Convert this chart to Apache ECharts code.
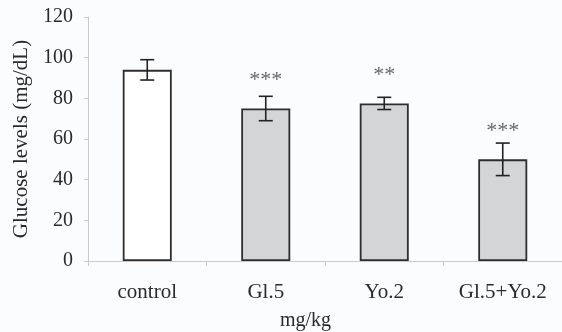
<!DOCTYPE html>
<html>
<head>
<meta charset="utf-8">
<script src="https://cdn.jsdelivr.net/npm/echarts@6/dist/echarts.min.js"></script>
<style>
  html, body { margin: 0; padding: 0; background: #fbfcfd; }
  #chart { width: 562px; height: 332px; }
</style>
</head>
<body>
<div id="chart"></div>
<script>
  const groups = ['control', 'Gl.5', 'Yo.2', 'Gl.5+Yo.2'];
  const glucose = [94, 75, 77.5, 50];
  const errors = [5, 6, 3, 8];
  const stars = ['', '***', '**', '***'];
  const starLevel = [0, 90.5, 93, 65.5];
  const yTicks = [0, 20, 40, 60, 80, 100, 120];

  const serif = '"Liberation Serif", "DejaVu Serif", serif';
  const chart = echarts.init(document.getElementById('chart'));

  const barData = glucose.map((v, i) => ({
    value: v,
    itemStyle: {color: i === 0 ? '#ffffff' : '#d4d5d6'}
  }));

  const option = {
    animation: false,
    backgroundColor: '#fbfcfd',
    grid: {left: 88, top: 17, width: 480, height: 244},
    xAxis: {
      type: 'category',
      data: groups,
      axisLine: {lineStyle: {color: '#c8cacc', width: 1}},
      axisTick: {show: true, length: 5, lineStyle: {color: '#c8cacc'}},
      axisLabel: {
        margin: 21, color: '#2a2a2a', fontFamily: serif, fontSize: 21
      }
    },
    yAxis: {
      type: 'value',
      min: yTicks[0],
      max: yTicks[yTicks.length - 1],
      interval: 20,
      name: 'Glucose levels (mg/dL)',
      nameLocation: 'middle',
      nameGap: 56,
      nameTextStyle: {color: '#2a2a2a', fontFamily: serif, fontSize: 21},
      axisLine: {show: true, lineStyle: {color: '#c8cacc'}},
      axisTick: {show: true, length: 4, lineStyle: {color: '#c8cacc'}},
      splitLine: {show: false},
      axisLabel: {
        margin: 15, color: '#2a2a2a', fontFamily: serif, fontSize: 20
      }
    },
    graphic: [{
      type: 'text',
      left: 280,
      top: 311,
      style: {
        text: 'mg/kg', fill: '#2a2a2a', font: '20px ' + serif
      }
    }],
    series: [{
      type: 'bar',
      data: barData,
      barWidth: 49,
      itemStyle: {borderColor: '#2e2e2e', borderWidth: 1.8}
    }, {
      type: 'custom',
      data: glucose.map((v, i) => [i, v - errors[i], v + errors[i], starLevel[i]]),
      renderItem: (params, api) => {
        const i = api.value(0);
        const lo = api.coord([i, api.value(1)]);
        const hi = api.coord([i, api.value(2)]);
        const cap = 7;
        const style = {stroke: '#222222', lineWidth: 1.6};
        const children = [
          {type: 'line', shape: {x1: hi[0], y1: hi[1], x2: lo[0], y2: lo[1]}, style},
          {type: 'line', shape: {x1: hi[0] - cap, y1: hi[1], x2: hi[0] + cap, y2: hi[1]}, style},
          {type: 'line', shape: {x1: lo[0] - cap, y1: lo[1], x2: lo[0] + cap, y2: lo[1]}, style}
        ];
        const s = stars[params.dataIndex];
        if (s) {
          const p = api.coord([i, api.value(3)]);
          children.push({
            type: 'text',
            x: p[0], y: p[1] + 3,
            style: {
              text: s, fill: '#666666', font: '22px ' + serif,
              textAlign: 'center', textVerticalAlign: 'middle'
            }
          });
        }
        return {type: 'group', children};
      },
      z: 5
    }]
  };

  chart.setOption(option);
</script>
</body>
</html>
